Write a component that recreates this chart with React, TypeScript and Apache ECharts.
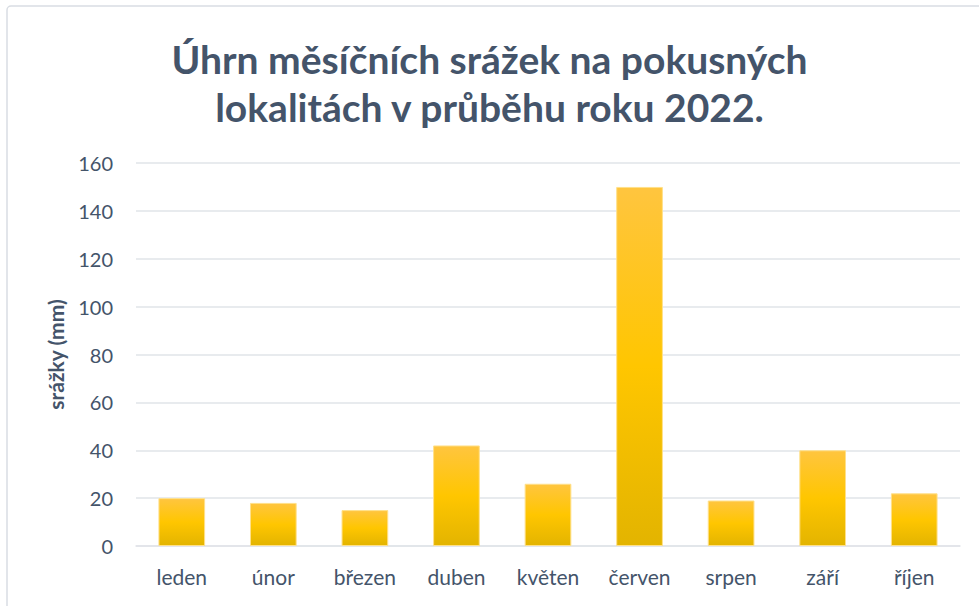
import React, { useEffect, useRef } from "react";
import * as echarts from "echarts";

const categories = ["leden", "únor", "březen", "duben", "květen", "červen", "srpen", "září", "říjen"];
const precipitation = [20, 18, 15, 42, 26, 150, 19, 40, 22];
const titleLines = ["Úhrn měsíčních srážek na pokusných", "lokalitách v průběhu roku 2022."];
const yAxisName = "srážky (mm)";

export default function App() {
  const ref = useRef<HTMLDivElement>(null);
  useEffect(() => {
    document.body.style.margin = "0";
    const chart = echarts.init(ref.current!, undefined, { renderer: "svg" });
    const textColor = "#44546A";
    chart.setOption({
      animation: false,
      backgroundColor: "#ffffff",
      title: {
        text: titleLines.join("\n"),
        left: "center",
        top: 30,
        textStyle: {
          fontFamily: "Lato",
          fontWeight: "bold",
          fontSize: 39,
          lineHeight: 48,
          color: textColor,
        },
      },
      graphic: [
        {
          type: "rect",
          shape: { x: 7, y: 6, width: 1000, height: 700, r: 4 },
          style: { fill: "none", stroke: "#D9DDE3", lineWidth: 1.5 },
          silent: true,
        },
      ],
      grid: { left: 136, right: 19, top: 163, bottom: 60 },
      xAxis: {
        type: "category",
        data: categories,
        axisLine: { show: true, lineStyle: { color: "#E1E4E9", width: 1.5 } },
        axisTick: { show: false },
        axisLabel: { color: textColor, fontFamily: "Lato", fontSize: 21, margin: 20 },
      },
      yAxis: {
        type: "value",
        min: 0,
        max: 160,
        interval: 20,
        name: yAxisName,
        nameLocation: "middle",
        nameGap: 70,
        nameTextStyle: { color: textColor, fontFamily: "Lato", fontWeight: "bold", fontSize: 21 },
        axisLine: { show: false },
        axisTick: { show: false },
        axisLabel: { color: textColor, fontFamily: "Lato", fontSize: 20, margin: 23 },
        splitLine: { lineStyle: { color: "#E1E4E9", width: 1.5 } },
      },
      series: [
        {
          type: "bar",
          data: precipitation,
          barWidth: "51%",
          itemStyle: {
            borderColor: "#FFE08A",
            borderWidth: 1,
            color: {
              type: "linear",
              x: 0,
              y: 0,
              x2: 0,
              y2: 1,
              colorStops: [
                { offset: 0, color: "#FFC53F" },
                { offset: 0.5, color: "#FFC600" },
                { offset: 1, color: "#E3B400" },
              ],
            },
          },
        },
      ],
    });
    return () => chart.dispose();
  }, []);
  return <div ref={ref} style={{ width: 979, height: 606 }} />;
}
